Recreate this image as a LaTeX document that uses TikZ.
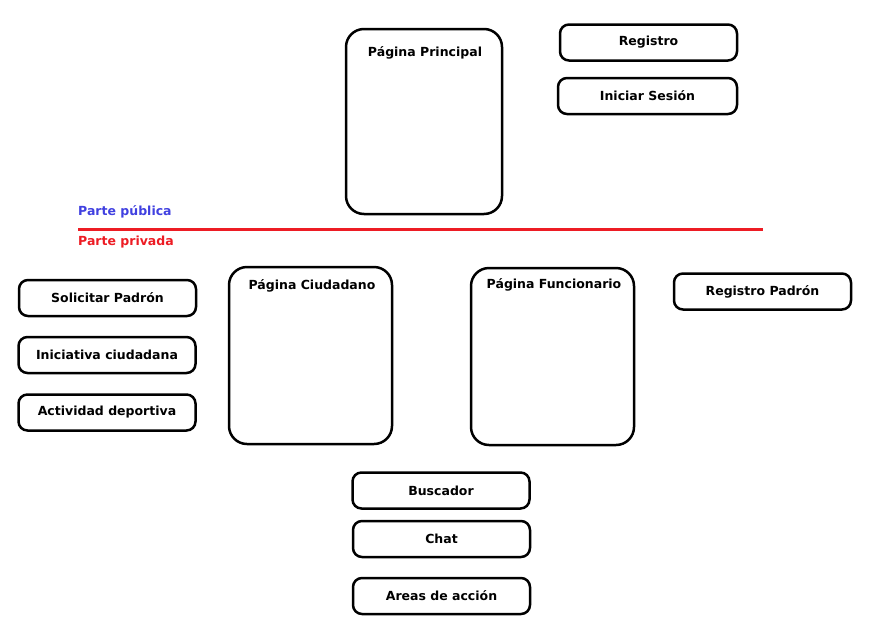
\documentclass[tikz,border=0pt]{standalone}
\usepackage{fontspec}
\setmainfont{DejaVu Sans}
\definecolor{publicblue}{RGB}{64,64,224}
\definecolor{privred}{RGB}{237,28,36}
\begin{document}
\begin{tikzpicture}[x=1pt,y=1pt]
\tikzstyle{every node}+=[inner sep=0pt, font=\fontsize{12.5}{14}\selectfont\bfseries]
\tikzstyle{page}=[draw=black, line width=2.5pt, rounded corners=18pt]
\tikzstyle{option}=[draw=black, line width=2.5pt, rounded corners=9pt, minimum width=177, minimum height=36]
\useasboundingbox (0,0) rectangle (882,-632);
% parte publica
\node [page, minimum width=156, minimum height=185] (principal) at (424,-121.5) {};
\node (principalTitle) at (425,-53) {Página Principal};
\node [option] (registro) at (648.5,-42.5) {Registro};
\node [option, minimum width=179] (sesion) at (647.5,-96) {Iniciar Sesión};
% separacion
\coordinate (lineL) at (78,-229);
\coordinate (lineR) at (763,-229);
\draw [privred, line width=3pt] (lineL) -- (lineR);
\node [publicblue, anchor=west] (publica) at (78,-212) {Parte pública};
\node [privred, anchor=west] (privada) at (78,-242) {Parte privada};
% parte privada
\node [page, minimum width=163, minimum height=177] (ciudadano) at (310.5,-355.5) {};
\node (ciudadanoTitle) at (312,-286) {Página Ciudadano};
\node [page, minimum width=163, minimum height=177] (funcionario) at (552.5,-356.5) {};
\node (funcionarioTitle) at (554,-285) {Página Funcionario};
\node [option] (regPadron) at (762.5,-291.5) {Registro Padrón};
\node [option] (solicitar) at (107.5,-298) {Solicitar Padrón};
\node [option] (iniciativa) at (107,-355) {Iniciativa ciudadana};
\node [option] (actividad) at (107,-412.5) {Actividad deportiva};
\node [option] (buscador) at (441,-490.5) {Buscador};
\node [option] (chat) at (441.5,-539) {Chat};
\node [option] (areas) at (441.5,-596) {Areas de acción};
\end{tikzpicture}
\end{document}
